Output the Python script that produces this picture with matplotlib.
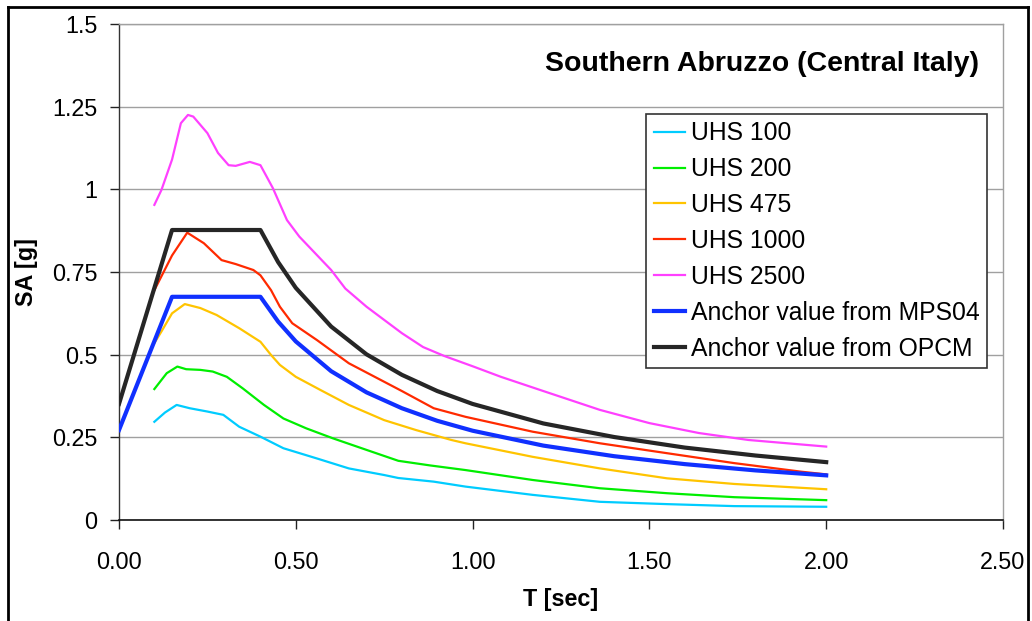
import matplotlib
matplotlib.use("Agg")
import matplotlib.pyplot as plt
from matplotlib.lines import Line2D

plt.rcParams['font.family'] = ['Liberation Sans', 'DejaVu Sans']

# ---- data ----
t_2500 = [0.10, 0.12, 0.15, 0.175, 0.195, 0.21, 0.25, 0.28, 0.31, 0.33, 0.37, 0.40, 0.435, 0.475,
          0.51, 0.60, 0.64, 0.70, 0.75, 0.80, 0.86, 0.92, 1.00, 1.08, 1.20, 1.36, 1.50, 1.64, 1.78, 2.00]
sa_2500 = [0.953, 0.998, 1.09, 1.20, 1.225, 1.22, 1.17, 1.11, 1.073, 1.071, 1.083, 1.073, 1.004, 0.907,
           0.857, 0.756, 0.70, 0.645, 0.605, 0.565, 0.523, 0.496, 0.465, 0.433, 0.39, 0.333, 0.293, 0.263, 0.242, 0.222]

t_1000 = [0.10, 0.15, 0.193, 0.24, 0.29, 0.33, 0.38, 0.40, 0.43, 0.455, 0.49, 0.56, 0.65, 0.80,
          0.89, 0.98, 1.17, 1.36, 1.55, 1.74, 1.93, 2.00]
sa_1000 = [0.695, 0.80, 0.869, 0.837, 0.786, 0.774, 0.756, 0.74, 0.695, 0.645, 0.595, 0.544, 0.474, 0.39,
           0.338, 0.312, 0.267, 0.232, 0.202, 0.172, 0.146, 0.138]

t_475 = [0.10, 0.12, 0.15, 0.186, 0.23, 0.276, 0.34, 0.40, 0.43, 0.455, 0.50, 0.57, 0.65, 0.75,
         0.84, 0.94, 0.98, 1.17, 1.36, 1.55, 1.74, 2.00]
sa_475 = [0.535, 0.57, 0.625, 0.653, 0.641, 0.62, 0.58, 0.539, 0.499, 0.469, 0.433, 0.393, 0.348, 0.302,
          0.272, 0.242, 0.232, 0.191, 0.156, 0.126, 0.109, 0.093]

t_200 = [0.10, 0.135, 0.165, 0.19, 0.23, 0.265, 0.305, 0.35, 0.41, 0.465, 0.53, 0.605, 0.70, 0.79,
         0.88, 0.98, 1.17, 1.36, 1.55, 1.74, 2.00]
sa_200 = [0.396, 0.444, 0.464, 0.456, 0.454, 0.449, 0.433, 0.398, 0.348, 0.307, 0.277, 0.247, 0.212, 0.179,
          0.165, 0.151, 0.121, 0.096, 0.081, 0.069, 0.060]

t_100 = [0.10, 0.13, 0.163, 0.20, 0.25, 0.295, 0.34, 0.40, 0.465, 0.56, 0.65, 0.75, 0.79, 0.89,
         0.98, 1.17, 1.36, 1.55, 1.74, 2.00]
sa_100 = [0.297, 0.325, 0.348, 0.338, 0.328, 0.318, 0.282, 0.252, 0.217, 0.186, 0.156, 0.136, 0.127, 0.116,
          0.101, 0.076, 0.055, 0.048, 0.042, 0.040]

t_anchor = [0.0, 0.15, 0.40, 0.45, 0.50, 0.60, 0.70, 0.80, 0.90, 1.00, 1.20, 1.40, 1.60, 1.80, 2.00]
sa_mps04 = [0.272, 0.675, 0.675, 0.600, 0.540, 0.450, 0.386, 0.338, 0.300, 0.270, 0.225, 0.193, 0.169, 0.150, 0.135]
sa_opcm = [0.351, 0.877, 0.877, 0.780, 0.702, 0.585, 0.501, 0.439, 0.390, 0.351, 0.292, 0.251, 0.219, 0.195, 0.175]

labels = ["UHS 100", "UHS 200", "UHS 475", "UHS 1000", "UHS 2500",
          "Anchor value from MPS04", "Anchor value from OPCM"]
x_ticks = [0.0, 0.5, 1.0, 1.5, 2.0, 2.5]
x_ticklabels = ["0.00", "0.50", "1.00", "1.50", "2.00", "2.50"]
y_ticks = [0, 0.25, 0.5, 0.75, 1.0, 1.25, 1.5]
y_ticklabels = ["0", "0.25", "0.5", "0.75", "1", "1.25", "1.5"]

# ---- figure ----
W, H = 1032, 621
fig = plt.figure(figsize=(W / 100, H / 100), dpi=100)
ax = fig.add_axes([119 / W, 1 - 520 / H, (1003 - 119) / W, (520 - 24) / H])

series = [
    (t_100, sa_100, '#00CCFF', 1.6),
    (t_200, sa_200, '#00EE00', 1.6),
    (t_475, sa_475, '#FFC400', 1.6),
    (t_1000, sa_1000, '#FF2A00', 1.6),
    (t_2500, sa_2500, '#FF40FF', 1.6),
    (t_anchor, sa_mps04, '#1030FF', 3.0),
    (t_anchor, sa_opcm, '#262626', 3.0),
]
for (t, sa, c, lw), lab in zip(series, labels):
    ax.plot(t, sa, color=c, lw=lw, label=lab, solid_joinstyle='round', zorder=3)

ax.set_xlim(0, 2.5)
ax.set_ylim(0, 1.5)
ax.set_xticks(x_ticks)
ax.set_xticklabels(x_ticklabels)
ax.set_yticks(y_ticks)
ax.set_yticklabels(y_ticklabels)
ax.yaxis.grid(True, color='#a0a0a0', lw=1.0)
ax.set_axisbelow(True)

for side in ['top', 'right']:
    ax.spines[side].set_color('#a0a0a0')
    ax.spines[side].set_linewidth(1.0)
ax.spines['left'].set_color('#333333')
ax.spines['bottom'].set_color('#111111')
ax.spines['left'].set_linewidth(1.0)
ax.spines['bottom'].set_linewidth(1.2)

ax.tick_params(axis='both', direction='out', length=6.5, width=1.0, colors='#222222',
               labelcolor='black', labelsize=16.8)
ax.tick_params(axis='x', pad=16)
ax.tick_params(axis='y', pad=9)

ax.set_xlabel("T [sec]", fontsize=16.8, fontweight='bold', labelpad=10)
ax.set_ylabel("SA [g]", fontsize=16.8, fontweight='bold', labelpad=10)

ax.text(762 / W, 1 - 64 / H, "Southern Abruzzo (Central Italy)", transform=fig.transFigure,
        ha='center', va='center', fontsize=20.5, fontweight='bold')

leg = ax.legend(loc='upper right', bbox_to_anchor=(987 / W, 1 - 114 / H),
                bbox_transform=fig.transFigure, borderaxespad=0, fontsize=17.8,
                handlelength=1.25, handletextpad=0.25, labelspacing=0.48,
                borderpad=0.3, frameon=True, fancybox=False, framealpha=1)
leg.get_frame().set_edgecolor('#333333')
leg.get_frame().set_linewidth(1.2)

# outer chart frame (bottom edge lies outside the picture)
for xs, ys in [([8 / W, 8 / W], [0, 1 - 7 / H]),
               ([8 / W, 1028 / W], [1 - 7 / H, 1 - 7 / H]),
               ([1028 / W, 1028 / W], [0, 1 - 7 / H])]:
    fig.add_artist(Line2D(xs, ys, transform=fig.transFigure, color='black', lw=2.0))

fig.savefig("out.png", dpi=100)
